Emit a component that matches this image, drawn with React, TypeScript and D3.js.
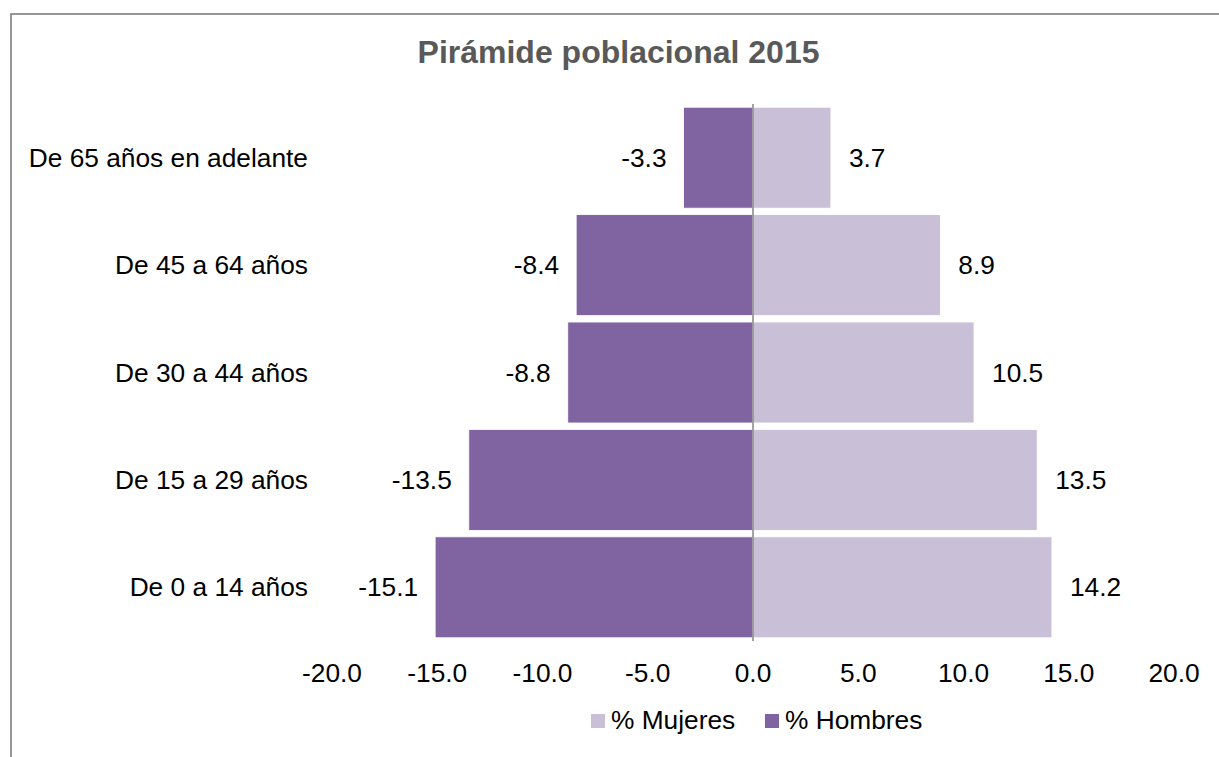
import React from "react";
import * as d3 from "d3";

const categories = [
  "De 0 a 14 años",
  "De 15 a 29 años",
  "De 30 a 44 años",
  "De 45 a 64 años",
  "De 65 años en adelante",
];
const hombres = [-15.1, -13.5, -8.8, -8.4, -3.3];
const mujeres = [14.2, 13.5, 10.5, 8.9, 3.7];
const xTicks = [-20, -15, -10, -5, 0, 5, 10, 15, 20];
const title = "Pirámide poblacional 2015";
const legendItems = [
  { label: "% Mujeres", key: "m" },
  { label: "% Hombres", key: "h" },
];

const W = 1219;
const H = 757;
const FONT = "'Liberation Sans', Arial, sans-serif";
const DARK = "#8064A2";
const LIGHT = "#C9C0D8";

export default function App() {
  const x = d3.scaleLinear().domain([-20, 20]).range([332, 1174]);
  const y = d3
    .scaleBand<string>()
    .domain([...categories].reverse())
    .range([104, 641])
    .paddingInner(0.06)
    .paddingOuter(0.03);
  const f = d3.formatLocale({
    decimal: ".",
    thousands: ",",
    grouping: [3],
    currency: ["", ""],
    minus: "-",
  }).format(".1f");
  const fmt = (v: number) => f(v);
  const bw = y.bandwidth();
  const fs = 26.3;

  return (
    <svg
      width={W}
      height={H}
      style={{ position: "absolute", left: 0, top: 0, background: "#fff" }}
      fontFamily={FONT}
    >
      <rect x={0} y={0} width={W} height={H} fill="#fff" />
      <rect
        x={11}
        y={14}
        width={W + 20}
        height={H + 20}
        fill="none"
        stroke="#8c8c8c"
        strokeWidth={1.8}
      />
      <text
        x={618.5}
        y={63}
        textAnchor="middle"
        fontSize={32}
        fontWeight="bold"
        fill="#595959"
      >
        {title}
      </text>

      {categories.map((c, i) => {
        const yc = (y(c) as number) + bw / 2;
        return (
          <g key={c}>
            <rect
              x={x(hombres[i])}
              y={y(c)}
              width={x(0) - x(hombres[i])}
              height={bw}
              fill={DARK}
              stroke="#ffffff"
              strokeWidth={0.8}
            />
            <rect
              x={x(0)}
              y={y(c)}
              width={x(mujeres[i]) - x(0)}
              height={bw}
              fill={LIGHT}
              stroke="#ffffff"
              strokeWidth={0.8}
            />
            <text
              x={308}
              y={yc}
              textAnchor="end"
              dominantBaseline="central"
              fontSize={fs}
              fill="#000"
            >
              {c}
            </text>
            <text
              x={x(hombres[i]) - 17}
              y={yc}
              textAnchor="end"
              dominantBaseline="central"
              fontSize={fs}
              fill="#000"
            >
              {fmt(hombres[i])}
            </text>
            <text
              x={x(mujeres[i]) + 18}
              y={yc}
              textAnchor="start"
              dominantBaseline="central"
              fontSize={fs}
              fill="#000"
            >
              {fmt(mujeres[i])}
            </text>
          </g>
        );
      })}

      <line
        x1={x(0)}
        x2={x(0)}
        y1={104}
        y2={641}
        stroke="#8c8c8c"
        strokeWidth={1.6}
      />

      {xTicks.map((t) => (
        <text
          key={t}
          x={x(t)}
          y={682}
          textAnchor="middle"
          fontSize={fs}
          fill="#000"
        >
          {fmt(t)}
        </text>
      ))}

      {legendItems.map((item, i) => {
        const lx = i === 0 ? 591 : 765;
        return (
          <g key={item.key}>
            <rect
              x={lx}
              y={714}
              width={14}
              height={14}
              fill={item.key === "m" ? LIGHT : DARK}
            />
            <text x={lx + 20} y={729} fontSize={fs} fill="#000">
              {item.label}
            </text>
          </g>
        );
      })}
    </svg>
  );
}
